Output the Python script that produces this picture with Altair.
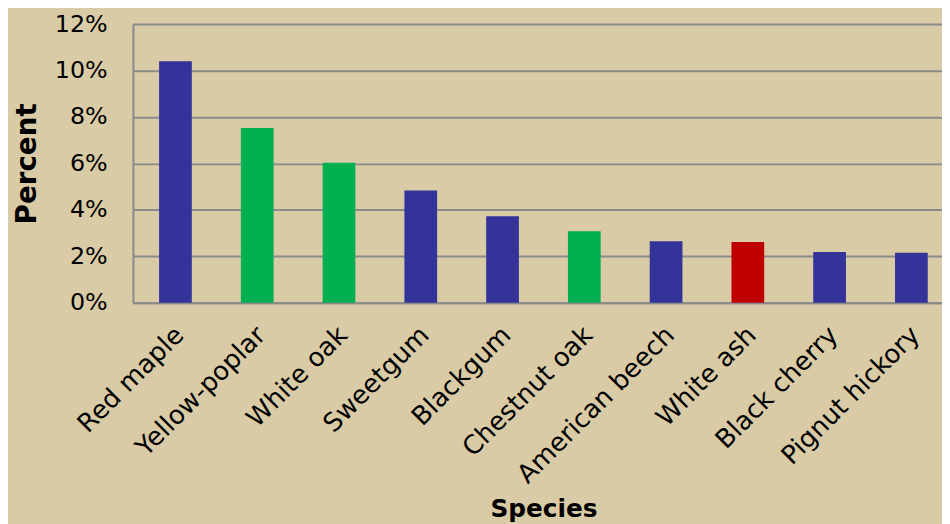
import altair as alt
import pandas as pd

species = ["Red maple", "Yellow-poplar", "White oak", "Sweetgum", "Blackgum",
           "Chestnut oak", "American beech", "White ash", "Black cherry", "Pignut hickory"]
percent = [0.1040, 0.0752, 0.0603, 0.0483, 0.0372, 0.0308, 0.0265, 0.0261, 0.0218, 0.0215]
group = ["blue", "green", "green", "blue", "blue", "green", "blue", "red", "blue", "blue"]
group_names = ["blue", "green", "red"]
group_colors = ["#333399", "#00b050", "#c00000"]
y_ticks = [0, 0.02, 0.04, 0.06, 0.08, 0.10, 0.12]

df = pd.DataFrame({"Species": species, "Percent": percent, "Group": group})

FONT = "DejaVu Sans"
BG = "#d9cba6"

chart = alt.Chart(df).mark_bar().encode(
    x=alt.X("Species:N", sort=species,
            scale=alt.Scale(paddingInner=0.6, paddingOuter=0.32),
            axis=alt.Axis(title="Species", labelAngle=-45, labelAlign="right",
                          labelBaseline="top", labelPadding=19, labelOffset=-5,
                          labelFontSize=26, labelFont=FONT, labelColor="#000000",
                          ticks=False, domainColor="#8a8a8a", domainWidth=2,
                          titleFont=FONT, titleFontSize=25, titleFontWeight="bold",
                          titleColor="#000000", titleY=216, titleBaseline="alphabetic",
                          labelLimit=400)),
    y=alt.Y("Percent:Q", scale=alt.Scale(domain=[0, 0.12], nice=False),
            axis=alt.Axis(title="Percent", format=".0%", values=y_ticks,
                          labelFontSize=24, labelFont=FONT, labelColor="#000000",
                          labelPadding=26, ticks=False, domainColor="#8a8a8a",
                          domainWidth=2, grid=True, gridColor="#8a8a8a", gridWidth=2,
                          titleFont=FONT, titleFontSize=28, titleFontWeight="bold",
                          titleColor="#000000", titleAngle=270, titleX=-106,
                          titleY=140.5, titleBaseline="middle", titleAlign="center")),
    color=alt.Color("Group:N", scale=alt.Scale(domain=group_names, range=group_colors),
                    legend=None),
).properties(
    width=828, height=281,
    autosize=alt.AutoSizeParams(type="none"),
    padding={"left": 126, "top": 14, "right": -12, "bottom": 221},
    usermeta={"embedOptions": {
        "defaultStyle": "html,body{background:" + BG + " !important;overflow:hidden;}"
    }},
).configure(
    background=BG,
).configure_view(
    stroke=None,
)

chart.save("out.html", embed_options={"renderer": "svg", "actions": False})
